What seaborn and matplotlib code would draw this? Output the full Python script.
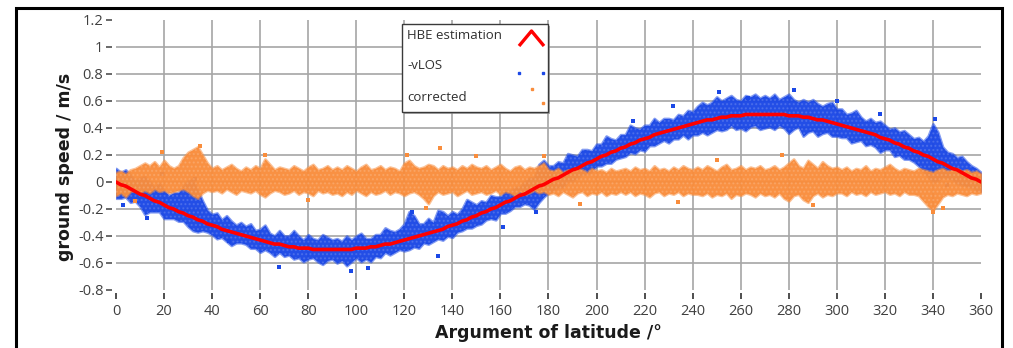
import numpy as np
import pandas as pd
import matplotlib
matplotlib.use("Agg")
import matplotlib.pyplot as plt
import seaborn as sns
from matplotlib.path import Path
from matplotlib.patches import Rectangle

# argument of latitude, every 2 degrees
arg_lat = list(range(0, 361, 2))

# HBE estimation
hbe = [0.00, -0.02, -0.03, -0.05, -0.07, -0.09,
       -0.10, -0.12, -0.14, -0.15, -0.17, -0.19, -0.20, -0.22, -0.23, -0.25,
       -0.26, -0.28, -0.29, -0.31, -0.32, -0.33, -0.35, -0.36, -0.37, -0.38,
       -0.39, -0.40, -0.41, -0.42, -0.43, -0.44, -0.45, -0.46, -0.46, -0.47,
       -0.48, -0.48, -0.49, -0.49, -0.49, -0.50, -0.50, -0.50, -0.50, -0.50,
       -0.50, -0.50, -0.50, -0.50, -0.49, -0.49, -0.49, -0.48, -0.48, -0.47,
       -0.46, -0.46, -0.45, -0.44, -0.43, -0.42, -0.41, -0.40, -0.39, -0.38,
       -0.37, -0.36, -0.35, -0.33, -0.32, -0.31, -0.29, -0.28, -0.26, -0.25,
       -0.23, -0.22, -0.20, -0.19, -0.17, -0.15, -0.14, -0.12, -0.10, -0.09,
       -0.07, -0.05, -0.03, -0.02, 0.00,
       0.02, 0.03, 0.05, 0.07, 0.09, 0.10, 0.12, 0.14, 0.15, 0.17,
       0.19, 0.20, 0.22, 0.23, 0.25, 0.26, 0.28, 0.29, 0.31, 0.32,
       0.33, 0.35, 0.36, 0.37, 0.38, 0.39, 0.40, 0.41, 0.42, 0.43,
       0.44, 0.45, 0.46, 0.46, 0.47, 0.48, 0.48, 0.49, 0.49, 0.49,
       0.50, 0.50, 0.50, 0.50, 0.50, 0.50, 0.50, 0.50, 0.50, 0.49,
       0.49, 0.49, 0.48, 0.48, 0.47, 0.46, 0.46, 0.45, 0.44, 0.43,
       0.42, 0.41, 0.40, 0.39, 0.38, 0.37, 0.36, 0.35, 0.33, 0.32,
       0.31, 0.29, 0.28, 0.26, 0.25, 0.23, 0.22, 0.20, 0.19, 0.17,
       0.15, 0.14, 0.12, 0.10, 0.09, 0.07, 0.05, 0.03, 0.02, 0.00]

# spread of the -vLOS cloud around the estimation (upper / lower edge)
vlos_dev_hi = [0.10, 0.09, 0.12, 0.10, 0.08, 0.12,
               0.14, 0.12, 0.10, 0.14, 0.11, 0.09, 0.12,
               0.14, 0.20, 0.26, 0.28, 0.22, 0.15, 0.10,
               0.08, 0.10, 0.07, 0.11, 0.08, 0.06, 0.09,
               0.07, 0.10, 0.06, 0.08, 0.12, 0.07, 0.06, 0.10, 0.07,
               0.08, 0.12, 0.09, 0.06, 0.10, 0.08, 0.07, 0.11, 0.09, 0.07,
               0.08, 0.06, 0.10, 0.07, 0.09, 0.11, 0.07, 0.06, 0.09, 0.08, 0.12, 0.10, 0.08, 0.09, 0.12,
               0.20, 0.16, 0.09, 0.08, 0.11, 0.07, 0.15, 0.13, 0.08, 0.10, 0.07, 0.09, 0.15, 0.11, 0.08,
               0.09, 0.07, 0.10, 0.08, 0.06, 0.09, 0.07, 0.08, 0.06, 0.09, 0.10, 0.08, 0.16, 0.18, 0.12,
               0.10, 0.12, 0.09, 0.14, 0.11, 0.09, 0.12, 0.10, 0.08, 0.11, 0.09, 0.14, 0.10, 0.08, 0.10,
               0.09, 0.14, 0.11, 0.08, 0.10, 0.09, 0.12, 0.08, 0.10, 0.09, 0.07, 0.10, 0.08, 0.11, 0.09,
               0.12, 0.14, 0.11, 0.13, 0.16, 0.12, 0.14, 0.15, 0.12, 0.11, 0.14, 0.13, 0.15, 0.12, 0.14,
               0.12, 0.15, 0.11, 0.13, 0.16, 0.12, 0.10, 0.13, 0.11, 0.14, 0.12, 0.10, 0.13, 0.15, 0.11,
               0.12, 0.09, 0.11, 0.14, 0.10, 0.08, 0.11, 0.09, 0.12, 0.10, 0.08, 0.11, 0.09, 0.12, 0.10,
               0.09, 0.11, 0.10, 0.15, 0.26, 0.22, 0.12, 0.10, 0.11, 0.09, 0.12, 0.10, 0.09, 0.08, 0.07]
vlos_dev_lo = [-0.12, -0.10, -0.08, -0.10, -0.07, -0.09,
               -0.14, -0.10, -0.08, -0.07, -0.10, -0.08, -0.07,
               -0.07, -0.06, -0.08, -0.10, -0.09, -0.07, -0.06,
               -0.07, -0.09, -0.06, -0.08, -0.10, -0.07, -0.06,
               -0.06, -0.08, -0.07, -0.09, -0.06, -0.07, -0.09, -0.06, -0.08,
               -0.06, -0.09, -0.07, -0.10, -0.08, -0.06, -0.09, -0.11, -0.08, -0.07,
               -0.10, -0.08, -0.12, -0.09, -0.07, -0.10, -0.08, -0.11, -0.07, -0.09, -0.06, -0.08, -0.07, -0.06, -0.08,
               -0.08, -0.07, -0.09, -0.06, -0.08, -0.07, -0.06, -0.08, -0.07, -0.09, -0.06, -0.07, -0.06, -0.08, -0.07,
               -0.08, -0.06, -0.07, -0.09, -0.06, -0.08, -0.07, -0.06, -0.08, -0.07, -0.10, -0.15, -0.12, -0.09, -0.08,
               -0.08, -0.07, -0.09, -0.06, -0.08, -0.07, -0.06, -0.08, -0.07, -0.05, -0.07, -0.06, -0.08, -0.06, -0.07,
               -0.07, -0.06, -0.08, -0.07, -0.09, -0.06, -0.08, -0.07, -0.06, -0.09, -0.07, -0.08, -0.06, -0.10, -0.08,
               -0.09, -0.08, -0.11, -0.09, -0.08, -0.10, -0.09, -0.07, -0.10, -0.09, -0.12, -0.09, -0.08, -0.11, -0.10,
               -0.09, -0.11, -0.08, -0.10, -0.13, -0.10, -0.08, -0.14, -0.11, -0.09, -0.12, -0.10, -0.08, -0.10, -0.09,
               -0.09, -0.08, -0.11, -0.09, -0.07, -0.10, -0.08, -0.09, -0.11, -0.08, -0.07, -0.10, -0.08, -0.09, -0.08,
               -0.08, -0.10, -0.12, -0.15, -0.17, -0.14, -0.10, -0.09, -0.08, -0.10, -0.09, -0.08, -0.07, -0.08, -0.07]

# corrected cloud, upper / lower edge
corr_hi = [0.07, 0.08, 0.06, 0.09, 0.10, 0.12,
           0.14, 0.12, 0.15, 0.11, 0.16, 0.12, 0.10,
           0.12, 0.18, 0.22, 0.24, 0.26, 0.20, 0.14,
           0.10, 0.12, 0.09, 0.11, 0.13, 0.10, 0.08,
           0.11, 0.09, 0.12, 0.10, 0.17, 0.13, 0.09, 0.11, 0.10,
           0.09, 0.12, 0.10, 0.08, 0.11, 0.13, 0.09, 0.10, 0.12, 0.09,
           0.11, 0.09, 0.12, 0.10, 0.08, 0.11, 0.13, 0.09, 0.10, 0.12, 0.09, 0.11, 0.10, 0.08, 0.14,
           0.16, 0.12, 0.10, 0.11, 0.13, 0.12, 0.09, 0.12, 0.10, 0.11, 0.09, 0.12, 0.10, 0.13, 0.11,
           0.10, 0.12, 0.09, 0.11, 0.13, 0.10, 0.08, 0.11, 0.12, 0.09, 0.11, 0.10, 0.12, 0.14, 0.09,
           0.08, 0.10, 0.07, 0.09, 0.08, 0.10, 0.09, 0.07, 0.10, 0.08, 0.09, 0.07, 0.10, 0.08, 0.09,
           0.10, 0.08, 0.11, 0.09, 0.10, 0.08, 0.12, 0.09, 0.10, 0.08, 0.11, 0.09, 0.12, 0.10, 0.09,
           0.11, 0.09, 0.12, 0.10, 0.08, 0.11, 0.13, 0.09, 0.10, 0.12, 0.09, 0.11, 0.10, 0.12, 0.09,
           0.10, 0.12, 0.09, 0.11, 0.14, 0.17, 0.12, 0.10, 0.16, 0.13, 0.10, 0.15, 0.12, 0.10, 0.11,
           0.09, 0.11, 0.08, 0.10, 0.09, 0.12, 0.08, 0.10, 0.09, 0.11, 0.13, 0.10, 0.08, 0.10, 0.09,
           0.08, 0.10, 0.09, 0.08, 0.07, 0.09, 0.10, 0.08, 0.09, 0.10, 0.08, 0.09, 0.07, 0.08, 0.06]
corr_lo = [-0.10, -0.08, -0.11, -0.07, -0.06, -0.08,
           -0.06, -0.08, -0.05, -0.07, -0.06, -0.08, -0.07,
           -0.06, -0.05, -0.07, -0.10, -0.12, -0.08, -0.06,
           -0.07, -0.06, -0.08, -0.05, -0.07, -0.09, -0.06,
           -0.07, -0.08, -0.06, -0.09, -0.11, -0.08, -0.06, -0.07, -0.09,
           -0.08, -0.06, -0.09, -0.07, -0.08, -0.10, -0.06, -0.08, -0.07, -0.09,
           -0.08, -0.10, -0.07, -0.09, -0.06, -0.08, -0.10, -0.07, -0.09, -0.08, -0.06, -0.09, -0.07, -0.08, -0.10,
           -0.08, -0.07, -0.09, -0.12, -0.16, -0.10, -0.07, -0.09, -0.08, -0.07, -0.10, -0.08, -0.06, -0.09, -0.08,
           -0.07, -0.09, -0.08, -0.06, -0.09, -0.07, -0.08, -0.10, -0.07, -0.09, -0.08, -0.06, -0.08, -0.07, -0.09,
           -0.08, -0.10, -0.07, -0.09, -0.11, -0.08, -0.07, -0.10, -0.08, -0.09, -0.07, -0.10, -0.08, -0.09, -0.07,
           -0.09, -0.07, -0.10, -0.08, -0.09, -0.11, -0.08, -0.07, -0.10, -0.08, -0.09, -0.07, -0.10, -0.08, -0.09,
           -0.09, -0.10, -0.08, -0.11, -0.09, -0.10, -0.08, -0.12, -0.09, -0.10, -0.08, -0.09, -0.11, -0.08, -0.10,
           -0.09, -0.11, -0.08, -0.12, -0.14, -0.10, -0.09, -0.13, -0.15, -0.10, -0.08, -0.11, -0.09, -0.10, -0.08,
           -0.08, -0.10, -0.07, -0.09, -0.08, -0.10, -0.07, -0.09, -0.08, -0.07, -0.09, -0.08, -0.10, -0.07, -0.09,
           -0.09, -0.10, -0.14, -0.18, -0.21, -0.16, -0.11, -0.09, -0.10, -0.08, -0.09, -0.10, -0.08, -0.09, -0.08]

# stray points outside the dense clouds
vlos_out_x = [3, 13, 19, 33, 47, 68, 98, 105, 123, 134, 161, 175, 178, 215, 232, 251, 263, 282, 300, 318, 341, 346]
vlos_out_y = [-0.17, -0.27, 0.06, 0.02, -0.44, -0.63, -0.66, -0.64, -0.22, -0.55, -0.33, -0.22, 0.19, 0.45, 0.56, 0.67, 0.62, 0.68, 0.60, 0.50, 0.47, -0.02]
corr_out_x = [8, 19, 35, 62, 80, 121, 129, 135, 150, 178, 193, 234, 250, 277, 290, 340, 344]
corr_out_y = [-0.14, 0.22, 0.27, 0.20, -0.13, 0.20, -0.19, 0.25, 0.19, 0.19, -0.16, -0.15, 0.16, 0.20, -0.17, -0.22, -0.19]

x_ticks = list(range(0, 361, 20))
y_ticks = [-0.8, -0.6, -0.4, -0.2, 0.0, 0.2, 0.4, 0.6, 0.8, 1.0, 1.2]
y_tick_labels = ["-0.8", "-0.6", "-0.4", "-0.2", "0", "0.2", "0.4", "0.6", "0.8", "1", "1.2"]
legend_labels = ["HBE estimation", "-vLOS", "corrected"]

blue = "#1b48e6"
orange = "#f98d3c"
red = "#ff0000"
grid_col = "#a6a6a6"
tick_col = "#404040"

df = pd.DataFrame({"arg_lat": arg_lat, "hbe": hbe,
                   "vlos_lo": np.array(hbe) + np.array(vlos_dev_lo),
                   "vlos_hi": np.array(hbe) + np.array(vlos_dev_hi),
                   "corr_lo": corr_lo, "corr_hi": corr_hi})
df_vout = pd.DataFrame({"x": vlos_out_x, "y": vlos_out_y})
df_cout = pd.DataFrame({"x": corr_out_x, "y": corr_out_y})

sns.set_style("white")
plt.rcParams["font.family"] = ["Open Sans", "DejaVu Sans"]
plt.rcParams["hatch.linewidth"] = 1.0

fig = plt.figure(figsize=(10.13, 3.48), dpi=100)
ax = fig.add_axes([0.1145, 0.1667, 0.8539, 0.7759])


def cloud(lo, hi, col, z):
    # soft edge, dense core and a light speckle on top
    ax.fill_between(df["arg_lat"], lo, hi, color=col, ec=col, lw=2.0, alpha=0.55, zorder=z)
    ax.fill_between(df["arg_lat"], lo, hi, color=col, lw=0, alpha=0.92, zorder=z)
    ax.fill_between(df["arg_lat"], lo, hi, fc="none", ec="white", hatch="....", lw=0,
                    alpha=0.15, zorder=z)


cloud(df["vlos_lo"], df["vlos_hi"], blue, 2)
sns.scatterplot(data=df_vout, x="x", y="y", color=blue, s=5, marker="s", linewidth=0, ax=ax, zorder=2)
cloud(df["corr_lo"], df["corr_hi"], orange, 3)
sns.scatterplot(data=df_cout, x="x", y="y", color=orange, s=5, marker="s", linewidth=0, ax=ax, zorder=3)
sns.lineplot(data=df, x="arg_lat", y="hbe", color=red, lw=2.6, ax=ax, zorder=4)

ax.set_xlim(0, 360)
ax.set_ylim(-0.8, 1.2)
ax.set_xticks(x_ticks)
ax.set_yticks(y_ticks)
ax.set_yticklabels(y_tick_labels)

ax.spines["left"].set_position(("outward", 3))
ax.spines["bottom"].set_position(("outward", 2))
for side in ["top", "right", "left", "bottom"]:
    ax.spines[side].set_visible(False)

ax.grid(True, color=grid_col, lw=1.2)
ax.set_axisbelow(True)
ax.xaxis.get_gridlines()[0].set_visible(False)
ax.xaxis.get_gridlines()[-1].set_visible(False)
ax.yaxis.get_gridlines()[0].set_visible(False)
ax.yaxis.get_gridlines()[-1].set_visible(False)

ax.tick_params(axis="y", which="major", left=True, length=4, width=1.1, color=tick_col,
               pad=2, labelsize=10.5, labelcolor=tick_col)
ax.tick_params(axis="x", which="major", bottom=True, length=4, width=1.3, color=tick_col,
               pad=4, labelsize=10.5, labelcolor=tick_col)

ax.set_xlabel("Argument of latitude /°", fontsize=12.5, fontweight="bold",
              family="DejaVu Sans", color="#1a1a1a")
ax.set_ylabel("ground speed / m/s", fontsize=12.5, fontweight="bold",
              family="DejaVu Sans", color="#1a1a1a")
ax.xaxis.set_label_coords(0.5, -0.125)
ax.yaxis.set_label_coords(-0.049, 0.455)

# legend box drawn by hand: labels on the left, samples on the right
box_x, box_y, box_w, box_h = 0.3306, 0.659, 0.1688, 0.326
ax.add_patch(Rectangle((box_x + 0.0025, box_y - 0.008), box_w, box_h, transform=ax.transAxes,
                       fc="#8a8a8a", ec="none", alpha=0.7, zorder=9))
ax.add_patch(Rectangle((box_x, box_y), box_w, box_h, transform=ax.transAxes,
                       fc="white", ec="#3a3a3a", lw=1.0, zorder=10))
label_y = [0.9407, 0.8296, 0.7137]
for lab, yy in zip(legend_labels, label_y):
    ax.text(0.3364, yy, lab, transform=ax.transAxes, ha="left", va="center",
            fontsize=9.5, color="#303030", zorder=11)
caret = Path([(-1.0, -0.6), (0.0, 0.6), (1.0, -0.6)],
             [Path.MOVETO, Path.LINETO, Path.LINETO])
ax.plot([0.4798], [0.935], transform=ax.transAxes, ls="None", marker=caret, ms=18,
        mew=2.4, mfc="none", color=red, zorder=11, clip_on=False)
ax.plot([0.4659, 0.4936], [0.8037, 0.8037], transform=ax.transAxes, ls="None", marker="s",
        ms=1.5, color=blue, zorder=11)
ax.plot([0.4806, 0.4933], [0.7444, 0.6926], transform=ax.transAxes, ls="None", marker="s",
        ms=1.5, color=orange, zorder=11)

# outer black frame of the screenshot
fig.patches.append(Rectangle((15.5 / 1013, -0.1), (1002 - 15.5) / 1013, 1.1 - 8.5 / 348,
                             transform=fig.transFigure, fill=False, ec="black", lw=2.2,
                             clip_on=False))

fig.savefig("out.png", dpi=100)
